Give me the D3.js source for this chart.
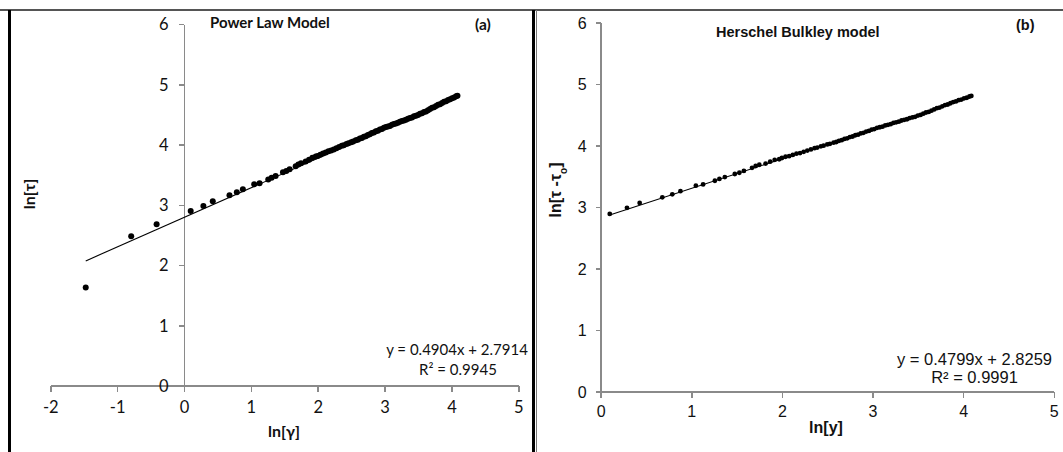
<!doctype html>
<html>
<head>
<meta charset="utf-8">
<title>Power law vs Herschel Bulkley</title>
<style>
  body { margin: 0; background: #fff; }
  svg { display: block; }
  .axis path, .axis line { stroke: #8a8a8a; stroke-width: 1.5; shape-rendering: crispEdges; }
  .pl text { font-family: Lato, "Open Sans", sans-serif; fill: #111; }
  .hb text { font-family: "Liberation Sans", Arial, sans-serif; fill: #111; }
</style>
</head>
<body>
<script src="https://d3js.org/d3.v7.min.js"></script>
<script>
// ln(shear rate) values shared by both models
var lnRate = [0.10, 0.29, 0.43, 0.68, 0.79, 0.88, 1.05, 1.13, 1.26, 1.31, 1.37, 1.48, 1.53, 1.58,
  1.67, 1.71, 1.75, 1.82, 1.87, 1.92, 1.97, 2.00,
  2.04, 2.08, 2.12, 2.16, 2.20, 2.24, 2.28, 2.32, 2.36, 2.39, 2.43, 2.46, 2.50, 2.53, 2.57, 2.60,
  2.63, 2.66, 2.69, 2.72, 2.75, 2.78, 2.81, 2.84, 2.87, 2.90, 2.93, 2.96, 2.99, 3.02, 3.05, 3.08,
  3.11, 3.14, 3.17, 3.20, 3.23, 3.26, 3.29, 3.32, 3.35, 3.38, 3.41, 3.44, 3.47, 3.50, 3.53, 3.56,
  3.59, 3.62, 3.65, 3.68, 3.71, 3.74, 3.77, 3.80, 3.83, 3.86, 3.89, 3.92, 3.95, 3.98, 4.01, 4.04,
  4.07, 4.09];

// extra low-rate points only in the power law plot
var lnRateLow = [-1.47, -0.79, -0.41];
var lnTauLow  = [1.63, 2.48, 2.68];

// (a) ln[tau]
var lnTau = [2.90, 2.98, 3.06, 3.16, 3.21, 3.26, 3.34, 3.36, 3.42, 3.45, 3.48, 3.54, 3.56, 3.59,
  3.64, 3.67, 3.69, 3.72, 3.75, 3.78, 3.80, 3.81,
  3.83, 3.85, 3.87, 3.89, 3.90, 3.92, 3.94, 3.96, 3.98, 3.99, 4.01, 4.02, 4.04, 4.05, 4.07, 4.08,
  4.10, 4.11, 4.13, 4.14, 4.16, 4.17, 4.19, 4.20, 4.22, 4.23, 4.25, 4.26, 4.28, 4.29, 4.30, 4.31,
  4.33, 4.34, 4.35, 4.36, 4.38, 4.39, 4.40, 4.41, 4.43, 4.44, 4.45, 4.47, 4.48, 4.49, 4.51, 4.52,
  4.54, 4.55, 4.57, 4.59, 4.61, 4.62, 4.64, 4.66, 4.67, 4.69, 4.71, 4.72, 4.74, 4.75, 4.77, 4.78,
  4.80, 4.81];

// (b) ln[tau - tau0]
var lnTauHB = [2.89, 2.99, 3.07, 3.16, 3.21, 3.26, 3.35, 3.37, 3.43, 3.46, 3.49, 3.54, 3.56, 3.59,
  3.64, 3.67, 3.69, 3.71, 3.74, 3.77, 3.78, 3.80,
  3.82, 3.83, 3.85, 3.87, 3.88, 3.90, 3.92, 3.94, 3.96, 3.97, 3.99, 4.00, 4.02, 4.03, 4.05, 4.06,
  4.08, 4.09, 4.11, 4.12, 4.14, 4.15, 4.17, 4.18, 4.20, 4.21, 4.23, 4.24, 4.26, 4.27, 4.29, 4.30,
  4.31, 4.33, 4.34, 4.35, 4.37, 4.38, 4.39, 4.41, 4.42, 4.43, 4.45, 4.46, 4.47, 4.49, 4.50, 4.52,
  4.54, 4.55, 4.57, 4.59, 4.61, 4.62, 4.64, 4.66, 4.67, 4.69, 4.71, 4.72, 4.74, 4.75, 4.77, 4.78,
  4.80, 4.81];

// trendlines
var fitPL = { slope: 0.4904, icept: 2.7914, r2: "0.9945", x0: -1.47, x1: 4.09 };
var fitHB = { slope: 0.4799, icept: 2.8259, r2: "0.9991", x0: 0.10, x1: 4.09 };

var xTicksPL = [-2, -1, 0, 1, 2, 3, 4, 5];
var xTicksHB = [0, 1, 2, 3, 4, 5];
var yTicks = [0, 1, 2, 3, 4, 5, 6];

var w = 1063, h = 452;
var svg = d3.select("body").append("svg").attr("width", w).attr("height", h);

// frame lines
svg.append("line").attr("x1", 0).attr("x2", w).attr("y1", 10).attr("y2", 10)
  .attr("stroke", "#555").attr("stroke-width", 2);
svg.append("rect").attr("x", 8).attr("y", 10).attr("width", 3).attr("height", h).attr("fill", "#000");
svg.append("rect").attr("x", 532).attr("y", 10).attr("width", 3).attr("height", h).attr("fill", "#000");
svg.append("line").attr("x1", 536.5).attr("x2", 536.5).attr("y1", 10).attr("y2", h)
  .attr("stroke", "#777").attr("stroke-width", 1);

function zip(xs, ys) { return xs.map(function(d, i) { return [d, ys[i]]; }); }

function panel(cls, xs, ys, xTicks, pts, fit, r, fontSize, labPad) {
  var g = svg.append("g").attr("class", cls);

  g.append("g").attr("class", "axis")
    .attr("transform", "translate(0," + ys(0) + ")")
    .call(d3.axisBottom(xs).tickValues(xTicks).tickSize(6).tickSizeOuter(0).tickFormat(String))
    .call(function(a) {
      a.selectAll("text").attr("y", labPad.x).attr("dy", "0.71em")
        .style("font-size", fontSize + "px").style("font-family", null);
    });

  g.append("g").attr("class", "axis")
    .attr("transform", "translate(" + xs(0) + ",0)")
    .call(d3.axisLeft(ys).tickValues(yTicks).tickSize(5).tickSizeOuter(0).tickFormat(String))
    .call(function(a) {
      a.selectAll("text").attr("x", -labPad.y).attr("dy", "0.35em")
        .style("font-size", fontSize + "px").style("font-family", null);
    });

  g.selectAll(".axis text").attr("fill", "#111");

  g.append("line")
    .attr("x1", xs(fit.x0)).attr("y1", ys(fit.icept + fit.slope * fit.x0))
    .attr("x2", xs(fit.x1)).attr("y2", ys(fit.icept + fit.slope * fit.x1))
    .attr("stroke", "#000").attr("stroke-width", 1.1);

  g.selectAll("circle").data(pts).enter().append("circle")
    .attr("cx", function(d) { return xs(d[0]); })
    .attr("cy", function(d) { return ys(d[1]); })
    .attr("r", r).attr("fill", "#000");

  return g;
}

// (a) Power law model
var xPL = d3.scaleLinear().domain([-2, 5]).range([50.3, 518.3]);
var yPL = d3.scaleLinear().domain([0, 6]).range([385.7, 24]);
var gA = panel("pl", xPL, yPL, xTicksPL, zip(lnRateLow, lnTauLow).concat(zip(lnRate, lnTau)),
  fitPL, 3, 16.5, { x: 15.5, y: 15.5 });

gA.append("text").attr("x", 210).attr("y", 27.5).attr("font-weight", "bold")
  .style("font-size", "15px").text("Power Law Model");
gA.append("text").attr("x", 475).attr("y", 29.5).attr("font-weight", "bold")
  .style("font-size", "15.5px").text("(a)");
gA.append("text").attr("x", 457).attr("y", 355).attr("text-anchor", "middle")
  .style("font-size", "15px").text("y = " + fitPL.slope + "x + " + fitPL.icept);
gA.append("text").attr("x", 458).attr("y", 375).attr("text-anchor", "middle")
  .style("font-size", "15px").text("R² = " + fitPL.r2);
gA.append("text").attr("x", 284).attr("y", 437).attr("text-anchor", "middle")
  .attr("font-weight", "bold").style("font-size", "16px").text("ln[γ]");
gA.append("text").attr("transform", "translate(35,194) rotate(-90)").attr("text-anchor", "middle")
  .attr("font-weight", "bold").style("font-size", "16px").text("ln[τ]");

// (b) Herschel Bulkley model
var xHB = d3.scaleLinear().domain([0, 5]).range([600.7, 1053.8]);
var yHB = d3.scaleLinear().domain([0, 6]).range([391.7, 22.7]);
var gB = panel("hb", xHB, yHB, xTicksHB, zip(lnRate, lnTauHB), fitHB, 2.4, 16, { x: 13.5, y: 14 });

gB.append("text").attr("x", 716).attr("y", 36.5).attr("font-weight", "bold")
  .style("font-size", "14.5px").text("Herschel Bulkley model");
gB.append("text").attr("x", 1016).attr("y", 30).attr("font-weight", "bold")
  .style("font-size", "14.5px").text("(b)");
gB.append("text").attr("x", 974.5).attr("y", 365).attr("text-anchor", "middle")
  .style("font-size", "16.5px").text("y = " + fitHB.slope + "x + " + fitHB.icept);
gB.append("text").attr("x", 974.5).attr("y", 382.7).attr("text-anchor", "middle")
  .style("font-size", "16.5px").text("R² = " + fitHB.r2);
gB.append("text").attr("x", 826).attr("y", 433).attr("text-anchor", "middle")
  .attr("font-weight", "bold").style("font-size", "16px").text("ln[y]");
var yl = gB.append("text").attr("transform", "translate(561,190) rotate(-90)").attr("text-anchor", "middle")
  .attr("font-weight", "bold").style("font-size", "16px");
yl.append("tspan").text("ln[τ -τ");
yl.append("tspan").attr("baseline-shift", "sub").style("font-size", "10px").text("o");
yl.append("tspan").text("]");
</script>
</body>
</html>
